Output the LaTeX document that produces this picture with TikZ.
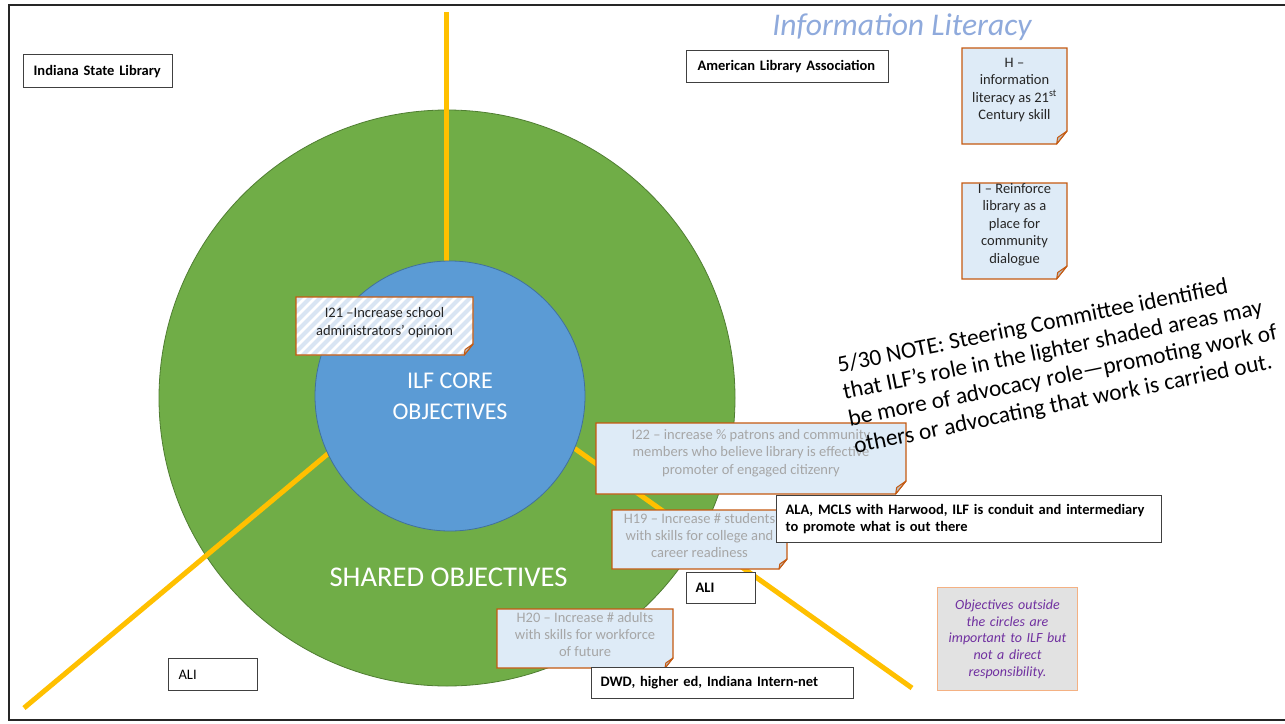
\documentclass[tikz,border=0pt]{standalone}
\usepackage{fontspec}
\setmainfont{Carlito}
\definecolor{grn}{HTML}{70AD47}
\definecolor{grnedge}{HTML}{507E32}
\definecolor{blu}{HTML}{5B9BD5}
\definecolor{bluedge}{HTML}{41719C}
\definecolor{ylw}{HTML}{FFC000}
\definecolor{stickfill}{HTML}{DEEBF7}
\definecolor{stickedge}{HTML}{C55A11}
\definecolor{foldgray}{HTML}{BDBDBD}
\definecolor{graytext}{HTML}{A6A6A6}
\definecolor{boxedge}{HTML}{404040}
\definecolor{titleblue}{HTML}{8FAADC}
\definecolor{notefill}{HTML}{E2E2E2}
\definecolor{noteedge}{HTML}{F4B183}
\definecolor{purp}{HTML}{7030A0}
\definecolor{stripe}{HTML}{D9E5F3}
\newcommand\drawsticky[6][stickyface]{%
 \path[#1] (#2,#3) -- (#4,#3) -- (#4,{#5-#6}) -- ({#4-0.8*#6},#5) -- (#2,#5) -- cycle;
 \path[foldface] (#4,{#5-#6}) -- ({#4-0.8*#6},#5) -- ({#4-0.72*#6},{#5-0.5*#6}) -- cycle;
}
\tikzset{
 yline/.style={draw=ylw, line width=5pt},
 stickyface/.style={fill=stickfill, draw=stickedge, line width=1.2pt},
 stickyedge/.style={draw=stickedge, line width=1.2pt},
 foldface/.style={fill=foldgray, draw=stickedge, line width=1pt, line join=round},
 obox/.style={draw=boxedge, fill=white, line width=1.2pt, inner ysep=0pt, anchor=north west, align=left, font=\bfseries\fontsize{14.5}{16.5}\selectfont},
 blacktxt/.style={text=black, align=center, font=\fontsize{14.5}{17.4}\selectfont, inner sep=0pt},
 graytxt/.style={blacktxt, text=graytext},
 bigwhite/.style={text=white, align=center, inner sep=0pt},
}
\begin{document}
\begin{tikzpicture}[x=1pt,y=-1pt]
\useasboundingbox (0,0) rectangle (1285,723);
\fill[white] (0,0) rectangle (1285,723);
% circles and spokes
\draw[fill=grn, draw=grnedge, line width=0.8pt] (447,398) circle[radius=288pt];
\coordinate (vtop) at (446,12);
\coordinate (vbot) at (446,300);
\coordinate (llA) at (336,447);
\coordinate (llB) at (24,708);
\coordinate (lrA) at (567,443);
\coordinate (lrB) at (912,688);
\draw[yline] (vtop) -- (vbot);
\draw[yline] (llA) -- (llB);
\draw[yline] (lrA) -- (lrB);
\draw[fill=blu, draw=bluedge, line width=0.8pt] (450,396) circle[radius=135pt];
% I21 striped sticky
\begin{scope}
\clip (296,297) -- (473,297) -- (473,344) -- (464.2,355) -- (296,355) -- cycle;
\fill[white] (290,290) rectangle (480,360);
\foreach \s in {226,236,...,480} \draw[stripe, line width=4pt] (\s,362) -- ++(70,-70);
\end{scope}
\drawsticky[stickyedge]{296}{297}{473}{355}{11}
\node[blacktxt, text=black!85] (i21) at (384.5,322.5) {I21 –Increase school\\administrators’ opinion};
% circle labels
\node[bigwhite, font=\fontsize{24}{31}\selectfont] (core) at (450,396) {ILF CORE\\OBJECTIVES};
\node[bigwhite, font=\fontsize{28.6}{33}\selectfont] (shared) at (448.5,577) {SHARED OBJECTIVES};
% H and I stickies
\drawsticky{962}{48}{1067}{144}{13}
\node[blacktxt, text=black!85] (hnote) at (1014.5,90) {H –\\information\\literacy as 21\textsuperscript{st}\\Century skill};
\drawsticky{962}{183}{1067}{279}{13}
\node[blacktxt, text=black!85] (inote) at (1014.5,224.5) {I – Reinforce\\library as a\\place for\\community\\dialogue};
% I22
\drawsticky{596}{423}{906}{494}{13}
\node[graytxt] (i22) at (751,453) {I22 – increase \% patrons and community\\members who believe library is effective\\promoter of engaged citizenry};
% rotated note
\node[rotate=11.5, anchor=west, align=left, inner sep=0pt, font=\fontsize{23.3}{27.5}\selectfont] (note) at (846,407) {5/30 NOTE: Steering Committee identified\\that ILF’s role in the lighter shaded areas may\\be more of advocacy role—promoting work of\\others or advocating that work is carried out.};
% H19
\drawsticky{612}{510}{787}{569}{10}
\node[graytxt] (h19) at (699.5,535.5) {H19 – Increase \# students\\with skills for college and\\career readiness};
\node[obox, minimum width=385pt, minimum height=47pt, text width=367pt, inner xsep=9pt] (mcls) at (776,495) {ALA, MCLS with Harwood, ILF is conduit and intermediary\\to promote what is out there};
\node[obox, minimum width=69pt, minimum height=31pt, text width=51pt, inner xsep=9pt] (ali1) at (686,572) {ALI};
% H20
\drawsticky{497}{609}{673}{668}{10}
\node[graytxt] (h20) at (585,634.5) {H20 – Increase \# adults\\with skills for workforce\\of future};
\node[obox, minimum width=262pt, minimum height=31pt, text width=244pt, inner xsep=9pt] (dwd) at (591,667) {DWD, higher ed, Indiana Intern-net};
\node[obox, font=\fontsize{14.5}{16.5}\selectfont, minimum width=79pt, minimum height=32pt, text width=69pt, inner xsep=10pt] (ali2) at (168,658) {ALI};
% objectives note
\node[draw=noteedge, fill=notefill, line width=1pt, anchor=north west, minimum width=140pt, minimum height=103pt, text width=134pt, inner xsep=3pt, align=center, text=purp, font=\itshape\fontsize{14}{16.7}\selectfont] (objnote) at (937,587) {Objectives outside\\the circles are\\important to ILF but\\not a direct\\responsibility.};
% top boxes
\node[obox, minimum width=149pt, minimum height=33pt, text width=129pt, inner xsep=10pt] (isl) at (23,54) {Indiana State Library};
\node[obox, minimum width=202pt, minimum height=32pt, text width=180pt, inner xsep=11pt] (ala) at (686,50) {American Library Association};
\node[font=\itshape\fontsize{31.6}{37}\selectfont, text=titleblue, anchor=base, inner sep=0pt] (title) at (902,35) {Information Literacy};
% frame
\draw[line width=2.6pt, black!85] (9,5) rectangle (1300,720);
\end{tikzpicture}
\end{document}
